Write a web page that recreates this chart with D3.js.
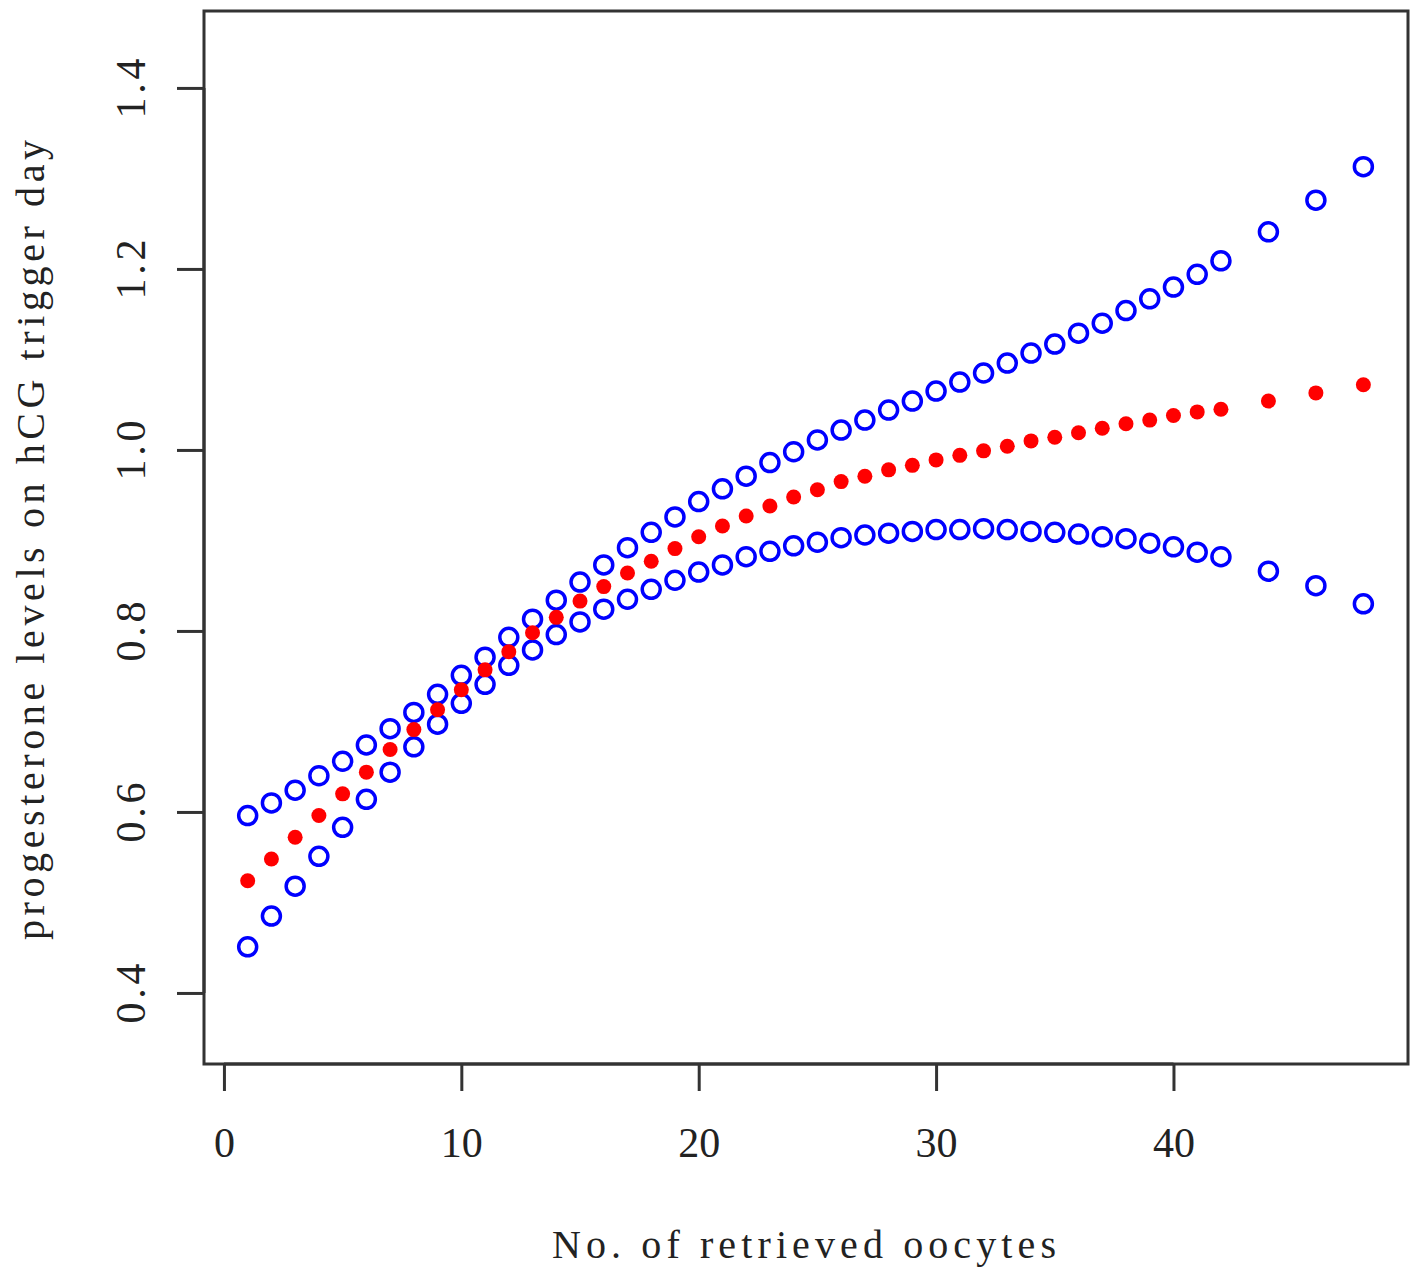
<!DOCTYPE html>
<html>
<head>
<meta charset="utf-8">
<script src="https://cdn.jsdelivr.net/npm/d3@7"></script>
<style>
    html, body { margin: 0; padding: 0; background: #fff; }
    svg { display: block; }
</style>
</head>
<body>
<svg id="chart"></svg>
<script>
'use strict';

// oocyte counts on the x axis
var oocytes = [1, 2, 3, 4, 5, 6, 7, 8, 9, 10, 11, 12, 13, 14, 15, 16, 17, 18, 19, 20,
    21, 22, 23, 24, 25, 26, 27, 28, 29, 30, 31, 32, 33, 34, 35, 36, 37, 38, 39, 40,
    41, 42, 44, 46, 48];

// fitted progesterone (red dots)
var fitted = [0.524, 0.548, 0.572, 0.596, 0.620, 0.644, 0.669, 0.691, 0.713, 0.735,
    0.757, 0.777, 0.798, 0.815, 0.833, 0.849, 0.864, 0.877, 0.891, 0.904,
    0.916, 0.927, 0.938, 0.948, 0.956, 0.965, 0.971, 0.978, 0.983, 0.989,
    0.994, 0.999, 1.004, 1.010, 1.014, 1.019, 1.024, 1.029, 1.033, 1.038,
    1.042, 1.045, 1.054, 1.063, 1.072];

// upper confidence limit (blue circles)
var upper = [0.596, 0.610, 0.624, 0.640, 0.656, 0.674, 0.692, 0.710, 0.730, 0.751,
    0.771, 0.793, 0.813, 0.834, 0.854, 0.873, 0.892, 0.909, 0.926, 0.943,
    0.957, 0.971, 0.986, 0.998, 1.011, 1.022, 1.033, 1.044, 1.054, 1.065,
    1.075, 1.085, 1.096, 1.107, 1.117, 1.129, 1.140, 1.154, 1.167, 1.180,
    1.194, 1.209, 1.241, 1.276, 1.313];

// lower confidence limit (blue circles)
var lower = [0.451, 0.485, 0.518, 0.551, 0.583, 0.614, 0.644, 0.672, 0.697, 0.720,
    0.741, 0.762, 0.779, 0.796, 0.810, 0.824, 0.835, 0.846, 0.856, 0.865,
    0.873, 0.882, 0.888, 0.894, 0.898, 0.903, 0.906, 0.908, 0.910, 0.912,
    0.912, 0.913, 0.912, 0.910, 0.909, 0.907, 0.904, 0.902, 0.897, 0.893,
    0.887, 0.882, 0.866, 0.850, 0.830];

var xTicks = [0, 10, 20, 30, 40];
var yTicks = [0.4, 0.6, 0.8, 1.0, 1.2, 1.4];

var xLabel = 'No. of retrieved oocytes';
var yLabel = 'progesterone levels on hCG trigger day';

var width = 1417;
var height = 1278;
var box = { left: 204, right: 1408, top: 11, bottom: 1064 };
var axisColor = '#333';
var tickFont = '"Liberation Serif", "DejaVu Serif", serif';

var svg = d3.select('#chart')
    .attr('width', width)
    .attr('height', height)
    .style('background-color', '#fff');

var x = d3.scaleLinear()
    .domain([-0.84, 49.88])
    .range([box.left, box.right]);

var y = d3.scaleLinear()
    .domain([0.3215, 1.485])
    .range([box.bottom, box.top]);

function seriesPoints(values) {
    return oocytes.map(function (d, i) {
        return { x: d, y: values[i] };
    });
}

// plot frame
svg.append('rect')
    .attr('x', box.left)
    .attr('y', box.top)
    .attr('width', box.right - box.left)
    .attr('height', box.bottom - box.top)
    .style('fill', 'none')
    .style('stroke', axisColor)
    .style('stroke-width', 3);

// x axis, R style: line only between the outer ticks
var xAxis = svg.append('g')
    .attr('transform', 'translate(0,' + box.bottom + ')')
    .call(d3.axisBottom(x)
        .tickValues(xTicks)
        .tickSize(27)
        .tickSizeOuter(0)
        .tickPadding(36)
        .tickFormat(d3.format('d')));

xAxis.select('.domain')
    .attr('d', 'M' + x(xTicks[0]) + ',0H' + x(xTicks[xTicks.length - 1]));

xAxis.selectAll('line, .domain')
    .style('stroke', axisColor)
    .style('stroke-width', 3);

xAxis.selectAll('text')
    .style('font-family', tickFont)
    .style('font-size', '42px')
    .style('fill', '#222');

// y axis with labels turned parallel to the axis
var yAxis = svg.append('g')
    .attr('transform', 'translate(' + box.left + ',0)')
    .call(d3.axisLeft(y)
        .tickValues(yTicks)
        .tickSize(27)
        .tickSizeOuter(0)
        .tickFormat(d3.format('.1f')));

yAxis.select('.domain')
    .attr('d', 'M0,' + y(yTicks[0]) + 'V' + y(yTicks[yTicks.length - 1]));

yAxis.selectAll('line, .domain')
    .style('stroke', axisColor)
    .style('stroke-width', 3);

yAxis.selectAll('text')
    .attr('x', null)
    .attr('dy', null)
    .attr('text-anchor', 'middle')
    .attr('textLength', 60)
    .attr('lengthAdjust', 'spacing')
    .attr('transform', 'translate(-59,0) rotate(-90)')
    .style('font-family', tickFont)
    .style('font-size', '42px')
    .style('fill', '#222');

// axis titles
svg.append('text')
    .attr('x', (552 + 1056) / 2)
    .attr('y', 1258)
    .attr('text-anchor', 'middle')
    .attr('textLength', 504)
    .attr('lengthAdjust', 'spacing')
    .style('font-family', tickFont)
    .style('font-size', '40px')
    .style('fill', '#222')
    .text(xLabel);

svg.append('text')
    .attr('transform', 'translate(44,540) rotate(-90)')
    .attr('text-anchor', 'middle')
    .attr('textLength', 800)
    .attr('lengthAdjust', 'spacing')
    .style('font-family', tickFont)
    .style('font-size', '40px')
    .style('fill', '#222')
    .text(yLabel);

// confidence limits as open circles
var ciGroup = svg.append('g');
[upper, lower].forEach(function (values) {
    ciGroup.selectAll(null)
        .data(seriesPoints(values))
        .enter()
        .append('circle')
        .attr('cx', function (d) { return x(d.x); })
        .attr('cy', function (d) { return y(d.y); })
        .attr('r', 9)
        .style('fill', 'none')
        .style('stroke', '#0000ff')
        .style('stroke-width', 3.5);
});

// fitted values as filled dots
svg.append('g')
    .selectAll('circle')
    .data(seriesPoints(fitted))
    .enter()
    .append('circle')
    .attr('cx', function (d) { return x(d.x); })
    .attr('cy', function (d) { return y(d.y); })
    .attr('r', 7.5)
    .style('fill', '#ff0000');
</script>
</body>
</html>
